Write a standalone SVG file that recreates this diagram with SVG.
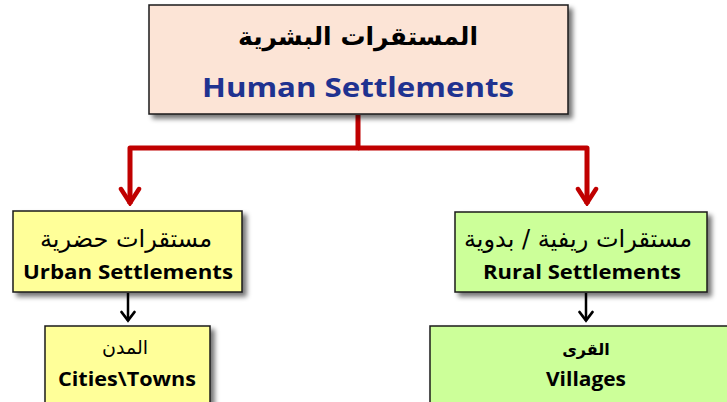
<svg xmlns="http://www.w3.org/2000/svg" width="727" height="402" viewBox="0 0 727 402">
<defs>
<filter id="sh" x="-10%" y="-10%" width="125%" height="130%">
<feGaussianBlur in="SourceAlpha" stdDeviation="2.5"/>
<feOffset dx="4" dy="4" result="b"/>
<feComponentTransfer><feFuncA type="linear" slope="0.55"/></feComponentTransfer>
<feMerge><feMergeNode/><feMergeNode in="SourceGraphic"/></feMerge>
</filter>
<marker id="ar" viewBox="0 0 20 24" refX="18" refY="12" markerWidth="20" markerHeight="24" markerUnits="userSpaceOnUse" orient="auto">
<path d="M3,3 L17,12 L3,21" fill="none" stroke="#C00000" stroke-width="4.5" stroke-linecap="round" stroke-linejoin="miter"/>
</marker>
<marker id="ab" viewBox="0 0 14 18" refX="12" refY="9" markerWidth="14" markerHeight="18" markerUnits="userSpaceOnUse" orient="auto">
<path d="M3,2.5 L11.5,9 L3,15.5" fill="none" stroke="#000" stroke-width="2.8" stroke-linecap="round"/>
</marker>
</defs>
<style>
.box{stroke:#1a1a1a;stroke-width:1.5;filter:url(#sh)}
.ar{font-family:"DejaVu Sans","Noto Sans",sans-serif;text-anchor:middle;fill:#000}
.en{font-family:"Open Sans","Liberation Sans",sans-serif;font-weight:bold;text-anchor:middle;fill:#000}
</style>
<rect width="727" height="402" fill="#fff"/>
<g id="connectors" fill="none">
<path d="M358,115 V148 H130 V204" stroke="#C00000" stroke-width="5" stroke-linejoin="round" marker-end="url(#ar)"/>
<path d="M358,148 H587 V204" stroke="#C00000" stroke-width="5" stroke-linejoin="round" marker-end="url(#ar)"/>
<path d="M128,293 V321" stroke="#000" stroke-width="2.5" marker-end="url(#ab)"/>
<path d="M586,293 V321" stroke="#000" stroke-width="2.5" marker-end="url(#ab)"/>
</g>
<g id="human">
<rect class="box" x="149" y="5" width="419" height="109" fill="#FCE4D6"/>
<text class="ar" x="358" y="45" font-size="25" font-weight="bold">المستقرات البشرية</text>
<text class="en" x="358" y="97" font-size="26" style="fill:#1F3290" textLength="312" lengthAdjust="spacingAndGlyphs">Human Settlements</text>
</g>
<g id="urban">
<rect class="box" x="13" y="211" width="229" height="81" fill="#FFFF99"/>
<text class="ar" x="126" y="247" font-size="24">مستقرات حضرية</text>
<text class="en" x="128" y="279" font-size="19" textLength="210" lengthAdjust="spacingAndGlyphs">Urban Settlements</text>
</g>
<g id="rural">
<rect class="box" x="455" y="212" width="252" height="80" fill="#CCFF99"/>
<text class="ar" x="578" y="247" font-size="24">مستقرات ريفية / بدوية</text>
<text class="en" x="582" y="279" font-size="19" textLength="198" lengthAdjust="spacingAndGlyphs">Rural Settlements</text>
</g>
<g id="cities">
<rect class="box" x="45" y="326" width="165" height="80" fill="#FFFF99"/>
<text class="ar" x="125" y="354" font-size="19">المدن</text>
<text class="en" x="127" y="386" font-size="19" textLength="138" lengthAdjust="spacingAndGlyphs">Cities\Towns</text>
</g>
<g id="villages">
<rect class="box" x="430" y="326" width="310" height="80" fill="#CCFF99"/>
<text class="ar" x="586" y="355" font-size="16" font-weight="bold">القرى</text>
<text class="en" x="586" y="386" font-size="19" textLength="80" lengthAdjust="spacingAndGlyphs">Villages</text>
</g>
</svg>
